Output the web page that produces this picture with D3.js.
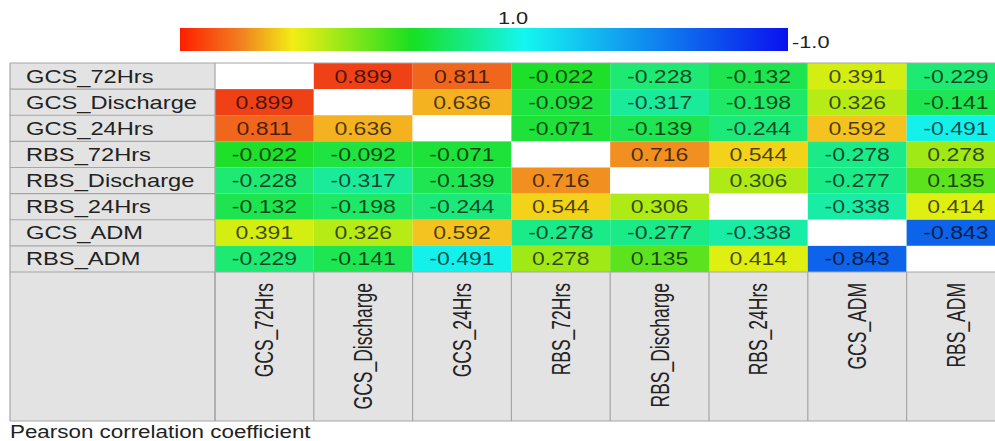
<!DOCTYPE html>
<html>
<head>
<meta charset="utf-8">
<script src="https://cdn.jsdelivr.net/npm/d3@7"></script>
<style>
  body { margin: 0; background: #fff; }
  svg { display: block; font-family: "Liberation Sans", Arial, sans-serif; }
</style>
</head>
<body>
<svg id="chart"></svg>
<script>
// variables (same order for rows and columns)
const variables = ["GCS_72Hrs", "GCS_Discharge", "GCS_24Hrs", "RBS_72Hrs",
  "RBS_Discharge", "RBS_24Hrs", "GCS_ADM", "RBS_ADM"];

// Pearson correlation matrix, null on the diagonal
const r_GCS_72Hrs     = [null, 0.899, 0.811, -0.022, -0.228, -0.132, 0.391, -0.229];
const r_GCS_Discharge = [0.899, null, 0.636, -0.092, -0.317, -0.198, 0.326, -0.141];
const r_GCS_24Hrs     = [0.811, 0.636, null, -0.071, -0.139, -0.244, 0.592, -0.491];
const r_RBS_72Hrs     = [-0.022, -0.092, -0.071, null, 0.716, 0.544, -0.278, 0.278];
const r_RBS_Discharge = [-0.228, -0.317, -0.139, 0.716, null, 0.306, -0.277, 0.135];
const r_RBS_24Hrs     = [-0.132, -0.198, -0.244, 0.544, 0.306, null, -0.338, 0.414];
const r_GCS_ADM       = [0.391, 0.326, 0.592, -0.278, -0.277, -0.338, null, -0.843];
const r_RBS_ADM       = [-0.229, -0.141, -0.491, 0.278, 0.135, 0.414, -0.843, null];
const matrix = [r_GCS_72Hrs, r_GCS_Discharge, r_GCS_24Hrs, r_RBS_72Hrs,
  r_RBS_Discharge, r_RBS_24Hrs, r_GCS_ADM, r_RBS_ADM];

// colour ramp (cells)
const colorDomain = [1, 0.75, 0.6, 0.45, 0, -0.2, -0.5, -1];
const colorRange = ["#f01410", "#f08020", "#f5c020", "#f0f010", "#1ede22", "#1ee866", "#14f0ee", "#0a22e6"];
// colour bar
const barColors = ["#ff1e00", "#f08020", "#f2ee14", "#18e020", "#14f6f0", "#0a10ee"];
const barOffsets = [0, 0.1, 0.186, 0.38, 0.567, 1];
const legendLabels = ["1.0", "-1.0"];
const footer = "Pearson correlation coefficient";

const W = 995, H = 441;
const SX = 1.28; // the picture is stretched horizontally
const tblLeft = 10, labelRight = 215, tblTop = 63, rowsBottom = 272, tblBottom = 421;

const svg = d3.select("#chart").attr("width", W).attr("height", H);

const color = d3.scaleLinear().domain(colorDomain).range(colorRange).clamp(true);
const x = d3.scaleBand().domain(variables).range([labelRight, labelRight + 98.8 * variables.length]);
const y = d3.scaleBand().domain(variables).range([tblTop, rowsBottom]);

// ---- colour bar
const defs = svg.append("defs");
const grad = defs.append("linearGradient").attr("id", "bar");
barColors.forEach((c, i) => {
  grad.append("stop").attr("offset", barOffsets[i]).attr("stop-color", c);
});
const barX0 = 180, barX1 = 788, barY = 28, barH = 23;
svg.append("rect").attr("x", barX0).attr("y", barY).attr("width", barX1 - barX0)
  .attr("height", barH).attr("fill", "url(#bar)");

function stretched(sel, tx, ty, extra, sx) {
  return sel.attr("transform", "translate(" + tx + "," + ty + ") scale(" + (sx || SX) + ",1)" + (extra || ""));
}

stretched(svg.append("text"), 513, 24)
  .attr("text-anchor", "middle").attr("font-size", 17).attr("fill", "#222")
  .text(legendLabels[0]);
stretched(svg.append("text"), 792, 48)
  .attr("font-size", 17).attr("fill", "#222")
  .text(legendLabels[1]);

// ---- table backgrounds
svg.append("rect").attr("x", tblLeft).attr("y", tblTop).attr("width", labelRight - tblLeft)
  .attr("height", tblBottom - tblTop).attr("fill", "#e3e3e3");
svg.append("rect").attr("x", labelRight).attr("y", rowsBottom).attr("width", W - labelRight)
  .attr("height", tblBottom - rowsBottom).attr("fill", "#e3e3e3");

// ---- heatmap cells
const cells = [];
matrix.forEach((row, i) => row.forEach((v, j) => cells.push({ r: variables[i], c: variables[j], v: v })));

const g = svg.append("g");
g.selectAll("rect.cell").data(cells).join("rect")
  .attr("class", "cell")
  .attr("x", d => x(d.c)).attr("y", d => y(d.r))
  .attr("width", x.bandwidth()).attr("height", y.bandwidth())
  .attr("fill", d => d.v === null ? "#fff" : color(d.v));

g.selectAll("text.val").data(cells.filter(d => d.v !== null)).join("text")
  .attr("class", "val")
  .each(function (d) {
    stretched(d3.select(this), x(d.c) + x.bandwidth() / 2, y(d.r) + y.bandwidth() / 2 + 6.5);
  })
  .attr("text-anchor", "middle").attr("font-size", 18)
  .attr("fill", "#000").attr("fill-opacity", 0.7)
  .text(d => d.v.toFixed(3));

// ---- grid lines
const grid = svg.append("g").attr("stroke", "#a6a6a6").attr("stroke-width", 1.2).attr("fill", "none");
variables.forEach((v, i) => {
  if (i > 0) grid.append("line").attr("x1", tblLeft).attr("x2", labelRight)
    .attr("y1", y(v)).attr("y2", y(v));
  grid.append("line").attr("x1", x(v)).attr("x2", x(v))
    .attr("y1", rowsBottom).attr("y2", tblBottom);
});
grid.append("line").attr("x1", tblLeft).attr("x2", W).attr("y1", tblTop).attr("y2", tblTop);
grid.append("line").attr("x1", tblLeft).attr("x2", W).attr("y1", rowsBottom).attr("y2", rowsBottom);
grid.append("line").attr("x1", tblLeft).attr("x2", W).attr("y1", tblBottom).attr("y2", tblBottom);
grid.append("line").attr("x1", tblLeft).attr("x2", tblLeft).attr("y1", tblTop).attr("y2", tblBottom);
grid.append("line").attr("x1", labelRight).attr("x2", labelRight).attr("y1", tblTop).attr("y2", tblBottom);

// ---- row labels
svg.append("g").selectAll("text").data(variables).join("text")
  .each(function (d) { stretched(d3.select(this), 26, y(d) + y.bandwidth() / 2 + 6.5); })
  .attr("font-size", 18.5).attr("fill", "#222")
  .text(d => d);

// ---- column labels
svg.append("g").selectAll("text").data(variables).join("text")
  .each(function (d) { stretched(d3.select(this), x(d) + x.bandwidth() / 2 + 9, 283, " rotate(-90)", 1.42); })
  .attr("text-anchor", "end").attr("font-size", 17.5).attr("fill", "#222")
  .text(d => d);

// ---- footer
stretched(svg.append("text"), 10, 438)
  .attr("font-size", 17.5).attr("fill", "#222")
  .text(footer);
</script>
</body>
</html>
